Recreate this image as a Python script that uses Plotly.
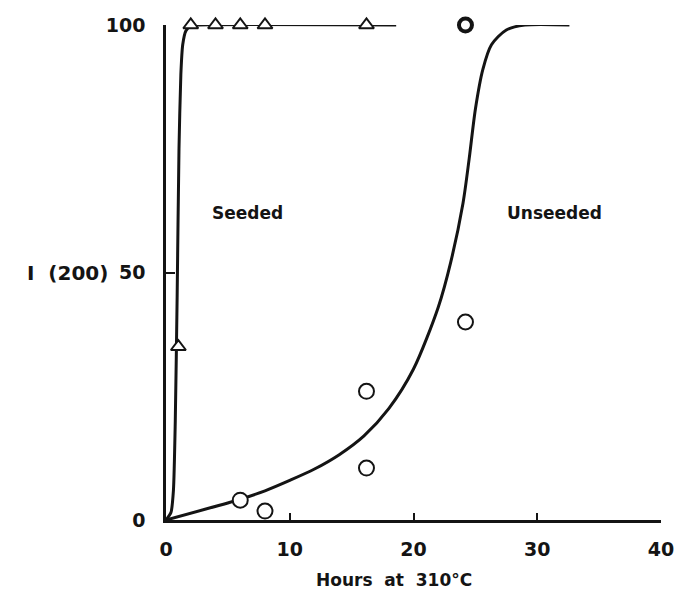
import plotly.graph_objects as go

# Measured data points
seeded_x = [1, 2, 4, 6, 8, 16.2]
seeded_y = [35, 100, 100, 100, 100, 100]

unseeded_x = [6, 8, 16.2, 16.2, 24.2]
unseeded_y = [4, 1.8, 26, 10.5, 40]
unseeded_top_x = [24.2]
unseeded_top_y = [100]

# Hand-drawn fitted curves
seeded_curve_x = [0, 0.4, 0.6, 0.75, 0.9, 1.05, 1.2, 1.35, 1.6, 2.0, 2.6, 18.6]
seeded_curve_y = [0, 1.5, 6, 20, 45, 75, 90, 96, 98.8, 99.8, 100, 100]

unseeded_curve_x = [0, 6, 8, 10, 12, 14, 16, 18, 20, 22, 23, 24, 24.5, 25, 25.6, 26.3, 27.5, 29, 32.6]
unseeded_curve_y = [0, 4.2, 5.9, 8, 10.3, 13.2, 17, 22.5, 30.5, 43, 52, 64, 73, 83, 91, 96, 99, 100, 100]

x_ticks = [0, 10, 20, 30, 40]
y_ticks = [0, 50, 100]

INK = "#141414"
FONT = "DejaVu Sans"

fig = go.Figure()

fig.add_trace(go.Scatter(x=seeded_curve_x, y=seeded_curve_y, mode="lines",
                         line=dict(color=INK, width=3, shape="spline", smoothing=0.6),
                         cliponaxis=False, showlegend=False, hoverinfo="skip"))
fig.add_trace(go.Scatter(x=unseeded_curve_x, y=unseeded_curve_y, mode="lines",
                         line=dict(color=INK, width=3, shape="spline", smoothing=0.8),
                         cliponaxis=False, showlegend=False, hoverinfo="skip"))

fig.add_trace(go.Scatter(x=seeded_x, y=seeded_y, mode="markers",
                         marker=dict(symbol="triangle-up", size=13, color="white",
                                     line=dict(color=INK, width=2)),
                         cliponaxis=False, showlegend=False))
fig.add_trace(go.Scatter(x=unseeded_x, y=unseeded_y, mode="markers",
                         marker=dict(symbol="circle", size=15, color="white",
                                     line=dict(color=INK, width=2)),
                         cliponaxis=False, showlegend=False))
fig.add_trace(go.Scatter(x=unseeded_top_x, y=unseeded_top_y, mode="markers",
                         marker=dict(symbol="circle", size=13, color="white",
                                     line=dict(color=INK, width=4)),
                         cliponaxis=False, showlegend=False))

fig.add_annotation(x=6.6, y=62, text="<b>Seeded</b>", showarrow=False,
                   font=dict(family=FONT, size=17, color=INK))
fig.add_annotation(x=31.4, y=62, text="<b>Unseeded</b>", showarrow=False,
                   font=dict(family=FONT, size=17, color=INK))
fig.add_annotation(xref="paper", yref="y", x=-0.113, y=50, text="<b>I  (200)</b>",
                   showarrow=False, xanchor="right",
                   font=dict(family=FONT, size=20, color=INK))
fig.add_annotation(xref="x", yref="paper", x=18.4, y=-0.122, yanchor="middle",
                   text="<b>Hours  at  310°C</b>", showarrow=False,
                   font=dict(family=FONT, size=17, color=INK))

fig.update_layout(
    width=677, height=595,
    margin=dict(l=166, r=16, t=25, b=75, autoexpand=False),
    paper_bgcolor="white", plot_bgcolor="white",
    font=dict(family=FONT, size=19, color=INK),
    xaxis=dict(range=[0, 40], tickvals=x_ticks, ticktext=[f"<b>{v}</b>" for v in x_ticks],
               ticks="inside", ticklen=7, tickwidth=2, tickcolor=INK, ticklabelstandoff=10,
               showline=True, linecolor=INK, linewidth=2.5, showgrid=False, zeroline=False,
               automargin=False),
    yaxis=dict(range=[0, 100], tickvals=y_ticks, ticktext=[f"<b>{v}</b>" for v in y_ticks],
               ticks="inside", ticklen=9, tickwidth=2, tickcolor=INK, ticklabelstandoff=14,
               showline=True, linecolor=INK, linewidth=2.5, showgrid=False, zeroline=False,
               automargin=False),
)

fig.write_html("out.html")
